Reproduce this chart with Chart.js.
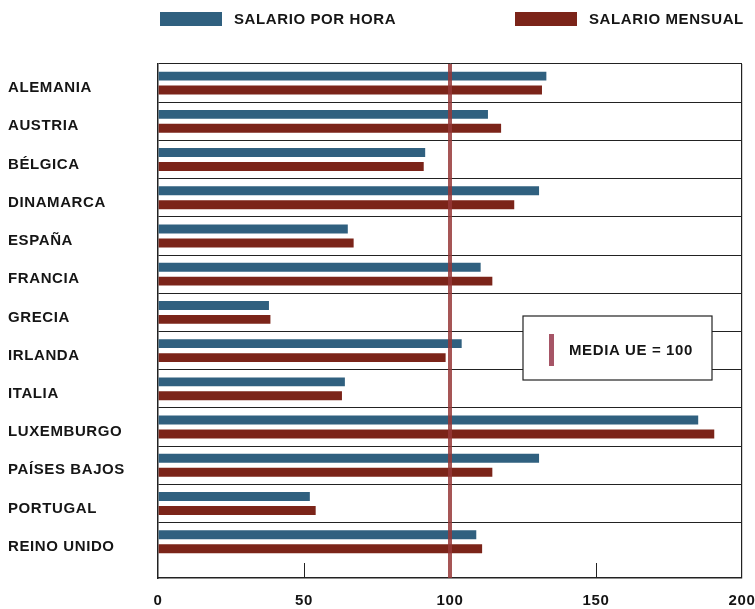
<!DOCTYPE html>
<html lang="es">
<head>
  <meta charset="UTF-8" />
  <title>Salarios en la UE</title>
  <script src="https://cdn.jsdelivr.net/npm/chart.js"></script>
  <style>
    html, body { margin: 0; padding: 0; background: #fff; }
  </style>
</head>
<body>
  <canvas id="salarios" width="755" height="609"></canvas>

  <script>
    // datos: indice respecto a la media UE (=100)
    const paises = ['ALEMANIA', 'AUSTRIA', 'BÉLGICA', 'DINAMARCA', 'ESPAÑA', 'FRANCIA', 'GRECIA',
                    'IRLANDA', 'ITALIA', 'LUXEMBURGO', 'PAÍSES BAJOS', 'PORTUGAL', 'REINO UNIDO'];
    const salarioHora    = [133, 113, 91.5, 130.5, 65, 110.5, 38, 104, 64, 185, 130.5, 52, 109];
    const salarioMensual = [131.5, 117.5, 91, 122, 67, 114.5, 38.5, 98.5, 63, 190.5, 114.5, 54, 111];
    const ticksX = [0, 50, 100, 150, 200];
    const mediaUE = 100;

    const AZUL = '#30607f';
    const GRANATE = '#7b2419';
    const NEGRO = '#151515';
    const FUENTE = '"Liberation Sans", Arial, sans-serif';

    Chart.defaults.font.family = FUENTE;
    Chart.defaults.font.size = 15;
    Chart.defaults.font.weight = 'bold';
    Chart.defaults.color = NEGRO;

    const puntos = serie => serie.map((v, i) => ({ x: v, y: i }));

    // leyenda, linea de la media, recuadro y marcas del eje inferior
    const extras = {
      id: 'extras',
      beforeDraw(chart) {
        // letra algo mas espaciada, como en la tipografia del original impreso
        chart.ctx.letterSpacing = '0.6px';
      },
      afterDatasetsDraw(chart) {
        const { ctx, chartArea: a, scales: { x } } = chart;
        ctx.save();

        // marcas cortas sobre el eje x
        ctx.strokeStyle = '#222';
        ctx.lineWidth = 1;
        [50, 150].forEach(v => {
          const px = Math.round(x.getPixelForValue(v)) + 0.5;
          ctx.beginPath();
          ctx.moveTo(px, a.bottom);
          ctx.lineTo(px, a.bottom - 15);
          ctx.stroke();
        });

        // linea vertical de la media
        const xm = x.getPixelForValue(mediaUE);
        ctx.strokeStyle = 'rgba(150, 55, 55, 0.85)';
        ctx.lineWidth = 4;
        ctx.beginPath();
        ctx.moveTo(xm, a.top);
        ctx.lineTo(xm, a.bottom);
        ctx.stroke();

        // recuadro "MEDIA UE = 100"
        const bx = a.right - 219, by = a.top + 252, bw = 189, bh = 64;
        ctx.fillStyle = '#fff';
        ctx.fillRect(bx, by, bw, bh);
        ctx.strokeStyle = '#222';
        ctx.lineWidth = 1.2;
        ctx.strokeRect(bx, by, bw, bh);
        ctx.fillStyle = 'rgba(150, 55, 75, 0.85)';
        ctx.fillRect(bx + 26, by + 18, 5, 32);
        ctx.fillStyle = NEGRO;
        ctx.font = 'bold 15px ' + FUENTE;
        ctx.textBaseline = 'middle';
        ctx.fillText('MEDIA UE = ' + mediaUE, bx + 46, by + 35);
        ctx.restore();
      },
      afterDraw(chart) {
        const { ctx } = chart;
        const posX = [160, 515];
        ctx.save();
        ctx.font = 'bold 15px ' + FUENTE;
        ctx.textBaseline = 'middle';
        chart.data.datasets.forEach((ds, i) => {
          ctx.fillStyle = ds.backgroundColor;
          ctx.fillRect(posX[i], 12, 62, 14);
          ctx.fillStyle = NEGRO;
          ctx.fillText(ds.label, posX[i] + 74, 20);
        });
        ctx.restore();
      }
    };

    new Chart(document.getElementById('salarios'), {
      type: 'bar',
      data: {
        datasets: [
          { label: 'SALARIO POR HORA', data: puntos(salarioHora), backgroundColor: AZUL },
          { label: 'SALARIO MENSUAL', data: puntos(salarioMensual), backgroundColor: GRANATE }
        ]
      },
      options: {
        indexAxis: 'y',
        responsive: false,
        animation: false,
        categoryPercentage: 0.73,
        barPercentage: 0.64,
        layout: { padding: { left: 8, top: 64, right: 13, bottom: 0 } },
        plugins: {
          legend: { display: false },
          tooltip: { enabled: false }
        },
        scales: {
          y: {
            type: 'linear',
            offset: false,
            reverse: true,
            min: -0.5,
            max: 12.95,
            afterBuildTicks: s => { s.ticks = paises.map((p, i) => ({ value: i })); },
            afterFit: s => { s.width = 150; s.paddingTop = 0; s.paddingBottom = 0; },
            ticks: {
              crossAlign: 'far',
              labelOffset: 5,
              callback: v => paises[v]
            },
            grid: {
              offset: true,
              drawTicks: false,
              color: c => c.tick ? '#222' : 'transparent',
              lineWidth: 1
            },
            border: { color: '#222', width: 1.5 }
          },
          x: {
            type: 'linear',
            min: 0,
            max: 200,
            afterBuildTicks: s => { s.ticks = ticksX.map(v => ({ value: v })); },
            afterFit: s => { s.height = 31; s.paddingLeft = 0; s.paddingRight = 0; },
            ticks: { padding: 14 },
            grid: {
              drawTicks: false,
              color: c => (c.tick && c.tick.value === 200) ? '#222' : 'transparent',
              lineWidth: 1.2
            },
            border: { color: '#222', width: 1.5 }
          }
        }
      },
      plugins: [extras]
    });
  </script>
</body>
</html>
